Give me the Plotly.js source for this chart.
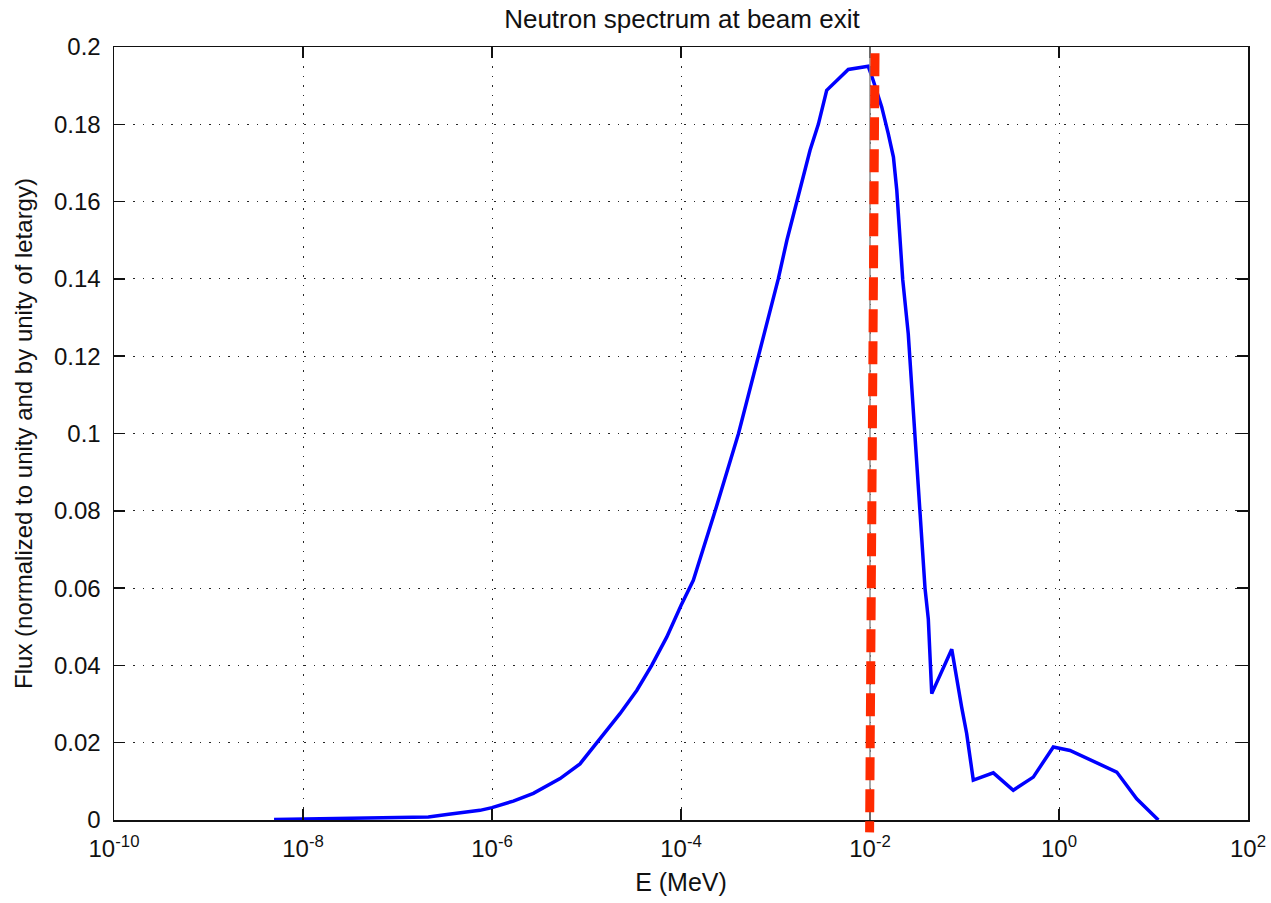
<!DOCTYPE html>
<html>
<head>
<meta charset="utf-8">
<script src="https://cdn.plot.ly/plotly-3.0.1.min.js"></script>
<style>
html, body { margin: 0; padding: 0; background: #ffffff; }
#chart { width: 1271px; height: 903px; }
</style>
</head>
<body>
<div id="chart"></div>
<script>
// Energy (MeV)
const energyMeV = [
  4.94e-9, 1.74e-8, 1.0e-7, 2.12e-7, 3.48e-7, 4.98e-7, 7.46e-7, 1.0e-6,
  1.68e-6, 2.74e-6, 5.25e-6, 8.53e-6, 1.28e-5, 2.26e-5, 3.40e-5, 4.90e-5,
  7.06e-5, 1.0e-4, 1.35e-4, 2.30e-4, 4.06e-4, 6.61e-4, 1.07e-3, 1.32e-3,
  1.68e-3, 1.82e-3, 2.32e-3, 2.84e-3, 3.48e-3, 5.89e-3, 9.59e-3, 1.08e-2,
  1.33e-2, 1.56e-2, 1.77e-2, 1.92e-2, 2.22e-2, 2.54e-2, 2.99e-2, 3.33e-2,
  3.82e-2, 4.14e-2, 4.25e-2, 4.50e-2, 7.33e-2, 8.26e-2, 9.33e-2, 0.1054,
  0.1239, 0.2018, 0.3281, 0.5346, 0.871, 1.306, 4.083, 6.637, 11.25
];
// Flux normalized to unity and by unity of lethargy
const flux = [
  0.0001, 0.0003, 0.0005, 0.0008, 0.0015, 0.0020, 0.0025, 0.0032,
  0.0049, 0.0069, 0.0107, 0.0145, 0.0200, 0.0275, 0.0335, 0.0400,
  0.0473, 0.0555, 0.0620, 0.0800, 0.1000, 0.1200, 0.1400, 0.1500,
  0.1600, 0.1638, 0.1733, 0.1800, 0.1888, 0.1942, 0.1950, 0.1914,
  0.1845, 0.1776, 0.1715, 0.1630, 0.1398, 0.1258, 0.0998, 0.0800,
  0.0600, 0.0520, 0.0452, 0.0327, 0.0442, 0.0361, 0.0292, 0.0224,
  0.0103, 0.0122, 0.0077, 0.0111, 0.0189, 0.0180, 0.0124, 0.0055, 0.0
];
// Vertical marker near 10^-2 MeV (top, bottom) and grey reference line
const cutoffE = [0.0113, 0.0099];
const refLineE = [0.01];

const xTickVals = [1e-10, 1e-8, 1e-6, 1e-4, 1e-2, 1e0, 1e2];
const xTickText = ['10<sup>-10</sup>', '10<sup>-8</sup>', '10<sup>-6</sup>', '10<sup>-4</sup>',
                   '10<sup>-2</sup>', '10<sup>0</sup>', '10<sup>2</sup>'];
const yTickVals = [0, 0.02, 0.04, 0.06, 0.08, 0.1, 0.12, 0.14, 0.16, 0.18, 0.2];
const yTickText = ['0', '0.02', '0.04', '0.06', '0.08', '0.1', '0.12', '0.14', '0.16', '0.18', '0.2'];

const FONT = 'Liberation Sans, Arial, Helvetica, sans-serif';

const trace = {
  x: energyMeV,
  y: flux,
  type: 'scatter',
  mode: 'lines',
  line: { color: '#0000ff', width: 3.5 },
  hoverinfo: 'skip',
  showlegend: false
};

const gridDash = '1.5px,8px';

const layout = {
  width: 1271,
  height: 903,
  margin: { l: 114, r: 23, t: 47, b: 83 },
  paper_bgcolor: '#ffffff',
  plot_bgcolor: '#ffffff',
  showlegend: false,
  title: {
    text: 'Neutron spectrum at beam exit',
    font: { family: FONT, size: 26, color: '#111' },
    x: 0.5365, xref: 'container', xanchor: 'center',
    y: 0.979, yref: 'container', yanchor: 'middle'
  },
  xaxis: {
    type: 'log',
    range: [-10, 2],
    tickvals: xTickVals,
    ticktext: xTickText,
    tickfont: { family: FONT, size: 24, color: '#111' },
    ticks: 'inside', ticklen: 11, tickwidth: 1.5, tickcolor: '#111',
    showline: true, linecolor: '#111', linewidth: 1.5, mirror: 'ticks',
    showgrid: true, gridcolor: 'rgba(0,0,0,0.85)', gridwidth: 1, griddash: gridDash,
    zeroline: false,
    automargin: false,
    ticklabelstandoff: 7,
    title: { text: 'E (MeV)', font: { family: FONT, size: 25, color: '#111' }, standoff: 12 }
  },
  yaxis: {
    range: [0, 0.2],
    tickvals: yTickVals,
    ticktext: yTickText,
    tickfont: { family: FONT, size: 24, color: '#111' },
    ticks: 'inside', ticklen: 11, tickwidth: 1.5, tickcolor: '#111',
    showline: true, linecolor: '#111', linewidth: 1.5, mirror: 'ticks',
    showgrid: true, gridcolor: 'rgba(0,0,0,0.85)', gridwidth: 1, griddash: gridDash,
    zeroline: false,
    automargin: false,
    ticklabelstandoff: 7,
    title: { text: 'Flux (normalized to unity and by unity of letargy)', font: { family: FONT, size: 24, color: '#111' }, standoff: 14 }
  },
  shapes: [
    {
      type: 'line', xref: 'x', yref: 'paper',
      x0: refLineE[0], x1: refLineE[0], y0: 1, y1: 0,
      line: { color: '#8a8a8a', width: 1.5 }
    },
    {
      type: 'line', xref: 'x', yref: 'paper',
      x0: cutoffE[0], x1: cutoffE[1], y0: 0.992, y1: -0.016,
      line: { color: '#ff2a00', width: 9, dash: '23px,9px' }
    }
  ]
};

Plotly.newPlot('chart', [trace], layout, { displayModeBar: false, staticPlot: true });
</script>
</body>
</html>
